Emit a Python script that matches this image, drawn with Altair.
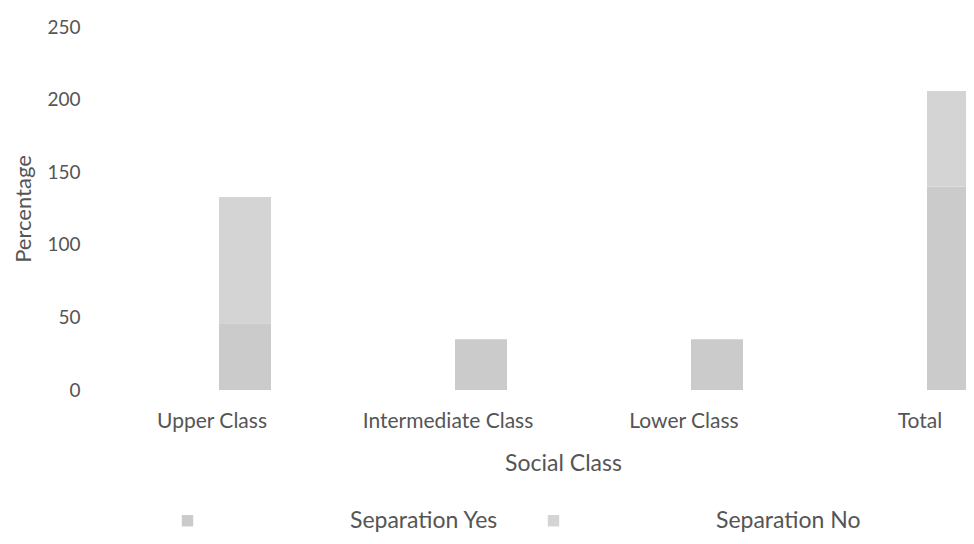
import altair as alt
import pandas as pd

classes = ["Upper Class", "Intermediate Class", "Lower Class", "Total"]
sep_yes = [46, 35, 35, 140]
sep_no = [87, 0, 0, 66]
series = ["Separation Yes", "Separation No"]
y_ticks = [0, 50, 100, 150, 200, 250]

rows = []
for c, a, b in zip(classes, sep_yes, sep_no):
    rows.append({"cls": c, "series": series[0], "value": a, "rank": 0})
    rows.append({"cls": c, "series": series[1], "value": b, "rank": 1})
df = pd.DataFrame(rows)

FONT = "Lato"
TXT = "#555555"

chart = alt.Chart(df).mark_bar(size=52, xOffset=33).encode(
    x=alt.X("cls:N", sort=classes,
            scale=alt.Scale(range=[0, 944], paddingInner=0, paddingOuter=0),
            axis=alt.Axis(title="Social Class", labelAngle=0, labelFont=FONT,
                          labelFontSize=21, labelColor=TXT, labelPadding=20,
                          titleFont=FONT, titleFontSize=23, titleFontWeight="normal",
                          titleColor=TXT, titleX=469, titleY=73,
                          titleBaseline="middle", titleAlign="center",
                          domain=False, ticks=False, grid=False)),
    y=alt.Y("value:Q", stack="zero",
            scale=alt.Scale(domain=[0, 250], nice=False),
            axis=alt.Axis(title="Percentage", values=y_ticks, labelFont=FONT,
                          labelFontSize=19, labelColor=TXT, labelPadding=14,
                          titleFont=FONT, titleFontSize=22, titleFontWeight="normal",
                          titleColor=TXT, titlePadding=11,
                          domain=False, ticks=False, grid=False)),
    color=alt.Color("series:N",
                    scale=alt.Scale(domain=series, range=["#cbcbcb", "#d4d4d4"]),
                    legend=alt.Legend(title=None, orient="none", legendX=82, legendY=482,
                                      direction="horizontal", symbolType="square",
                                      symbolSize=130, labelOffset=151, columnPadding=43,
                                      labelFont=FONT, labelFontSize=23, labelColor=TXT,
                                      symbolStrokeWidth=0)),
    order=alt.Order("rank:Q"),
).properties(
    width=872, height=363,
    autosize=alt.AutoSizeParams(type="none"),
    padding={"left": 86, "top": 19, "right": 0, "bottom": 144},
).configure_view(stroke=None)

chart.save("out.html", embed_options={"renderer": "svg", "actions": False})
